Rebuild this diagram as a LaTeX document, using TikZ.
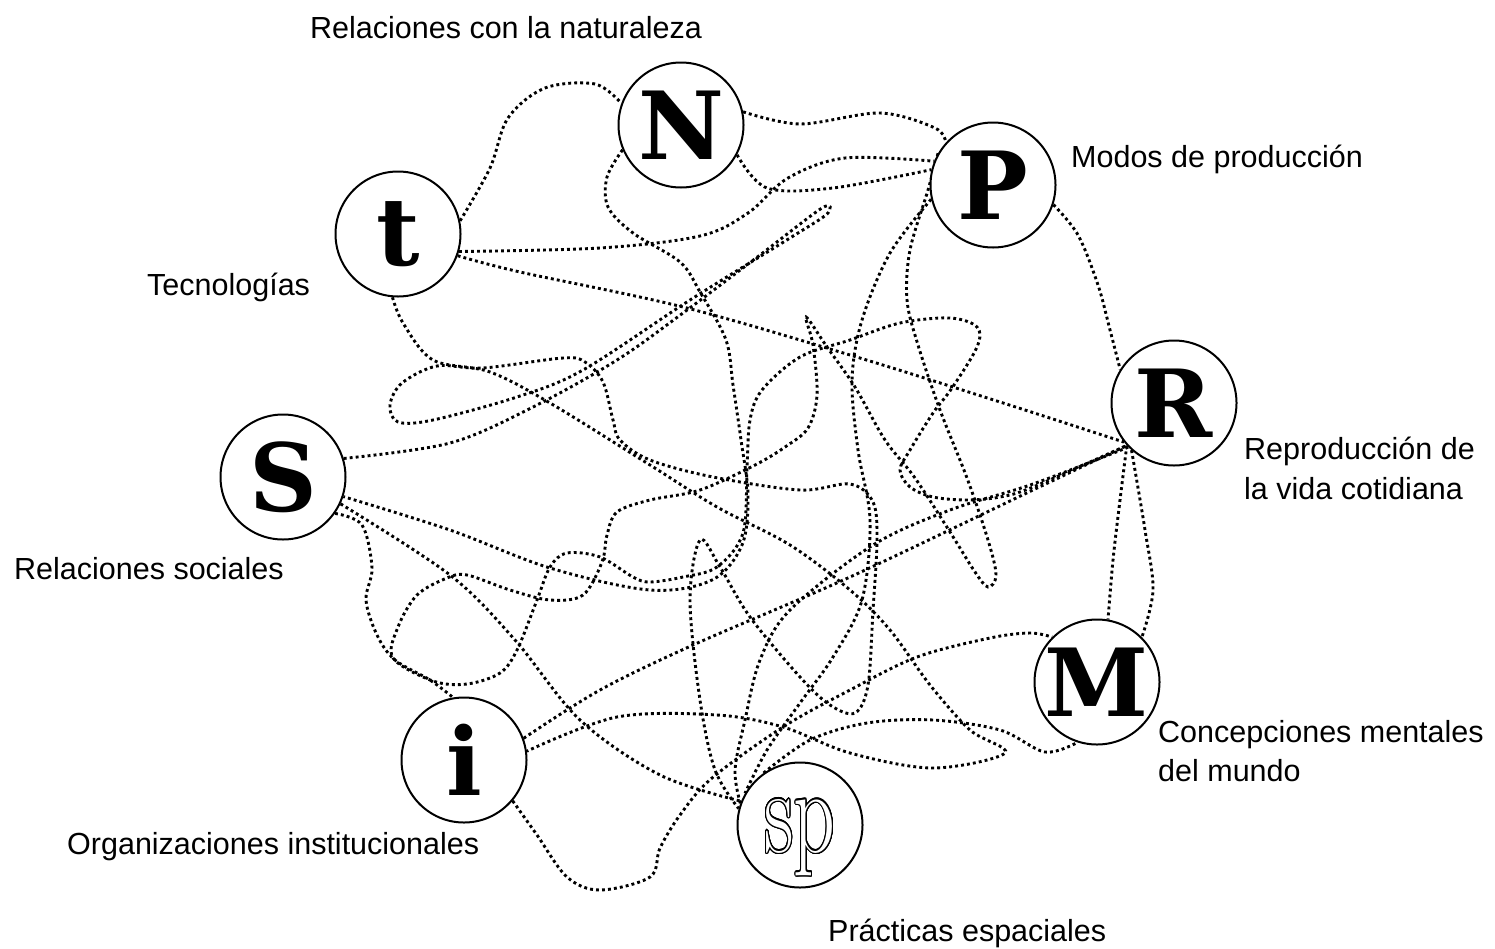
\documentclass[tikz,border=0pt]{standalone}
\usepackage{fontspec}
\setmainfont{Liberation Sans}
\newfontfamily\letterfont{DejaVu Serif}
\newfontfamily\spfont{Latin Modern Roman}
\usetikzlibrary{backgrounds}
\newcommand\outlinedtext[1]{%
  \leavevmode\rlap{\color{black}%
  \foreach \ang in {0,15,...,345}{%
    \rlap{\hspace{\fpeval{1.25*cosd(\ang)}pt}\raisebox{\fpeval{1.25*sind(\ang)}pt}{#1}}}}%
  {\color{white}#1}}
\begin{document}
\begin{tikzpicture}[x=1pt,y=-1pt,
  circ/.style={circle, draw, line width=2pt, fill=white, minimum size=125pt, inner sep=0pt},
  lett/.style={font=\letterfont\bfseries\fontsize{94}{94}\selectfont},
  lab/.style={anchor=base west, inner sep=0pt, font=\fontsize{30.5}{40}\selectfont},
  lnk/.style={line width=2.9pt, dash pattern=on 2.9pt off 3.1pt},
  sm/.style={smooth, tension=0.55}]
\useasboundingbox (0,0) rectangle (1495,948);

\node[circ, lett] (N) at (681,125) {N};
\node[circ, lett] (P) at (993,185) {P};
\node[circ, lett] (t) at (398,234) {t};
\node[circ, lett] (R) at (1174,403) {R};
\node[circ, lett] (S) at (283,477) {S};
\node[circ, lett] (M) at (1097,682) {M};
\node[circ, lett] (i) at (464,760) {i};
\node[circ, text depth=0pt, font=\spfont\fontsize{120}{120}\selectfont] (sp) at (800,825)
  {\scalebox{0.68}[1]{\outlinedtext{sp}}};

\node[lab] (labN) at (310,38) {Relaciones con la naturaleza};
\node[lab] (labP) at (1071,167) {Modos de producción};
\node[lab] (labt) at (147,295) {Tecnologías};
\node[lab] (labR1) at (1244,459) {Reproducción de};
\node[lab] (labR2) at (1244,499) {la vida cotidiana};
\node[lab] (labS) at (14,579) {Relaciones sociales};
\node[lab] (labM1) at (1158,742) {Concepciones mentales};
\node[lab] (labM2) at (1158,781) {del mundo};
\node[lab] (labi) at (67,854) {Organizaciones institucionales};
\node[lab] (labsp) at (828,941) {Prácticas espaciales};

\begin{pgfonlayer}{background}
% t - N
\draw[lnk] plot[sm] coordinates {(t.12) (490,168) (508,118) (545,88) (595,84) (N.160)};
% N - P upper
\draw[lnk] plot[sm] coordinates {(N.12) (800,124) (880,113) (935,128) (P.138)};
% N - P lower
\draw[lnk] plot[sm] coordinates {(N.-28) (767,188) (833,188) (P.166)};
% t - P
\draw[lnk] plot[sm] coordinates {(t.-16) (600,248) (700,236) (748,213) (788,178) (845,158) (P.158)};
% long strand from P
\draw[lnk] plot[sm] coordinates {(P.150) (928,190) (910,250) (907,300) (918,345) (940,410) (967,478) (988,540) (996,575) (988,587) (975,572) (950,532) (915,478) (885,440) (855,387) (827,347) (806,317) (813,345) (817,395) (808,428) (785,447) (755,465) (700,490) (650,500) (617,512) (607,535) (602,562) (583,595) (550,600) (510,590) (467,575) (447,578) (417,595) (398,627) (393,658) (433,681) (467,684) (500,673) (517,650) (537,600) (550,567) (567,553) (600,557) (633,577) (650,582) (683,577) (717,567) (743,533) (747,467) (750,420) (762,390) (800,357) (850,340) (900,323) (950,318) (977,327) (977,347) (952,388) (933,413) (910,450) (900,470) (910,487) (933,497) (967,500) (1000,497) (1033,487) (R.222)};
% S - i
\draw[lnk] plot[sm] coordinates {(S.-35) (362,525) (372,568) (366,600) (377,635) (395,660) (430,680) (i.100)};
% S tip loop
\draw[lnk] plot[sm] coordinates {(S.17) (450,443) (533,407) (617,360) (683,313) (760,255) (822,208) (827,214) (790,238) (690,300) (583,370) (517,397) (433,420) (398,422) (390,405) (402,383) (437,366) (483,368) (563,358) (585,362) (603,382) (613,420) (620,440) (650,460) (713,477) (800,490) (850,484) (873,502) (877,540) (873,610) (868,685) (855,713) (830,705) (800,677) (750,617) (720,567) (700,540) (690,600) (700,700) (715,770) (sp.165)};
% N bottom - centre - S
\draw[lnk] plot[sm] coordinates {(N.203) (607,177) (608,207) (633,233) (680,262) (700,292) (726,340) (733,385) (741,440) (748,495) (742,545) (712,580) (650,590) (550,568) (450,530) (S.-18)};
% t bottom - pointed tip - i
\draw[lnk] plot[sm] coordinates {(t.-95) (403,323) (433,360) (490,372) (550,403) (650,465) (717,507) (790,545) (850,590) (890,630) (930,685) (970,730) (1005,753) (933,768) (850,753) (783,727) (717,715) (617,717) (i.8)};
% sp - M bottom
\draw[lnk] plot[sm] coordinates {(sp.125) (810,740) (867,723) (933,720) (1000,730) (1045,752) (M.-108)};
% P - down - sp
\draw[lnk] plot[sm] coordinates {(P.193) (890,253) (862,320) (852,380) (858,450) (870,520) (862,600) (833,657) (800,703) (767,750) (sp.150)};
% P - R
\draw[lnk] plot[sm] coordinates {(P.-18) (1078,235) (1098,285) (1110,330) (R.148)};
% R - M
\draw[lnk] plot[sm] coordinates {(R.222) (1120,500) (1113,560) (M.80)};
\draw[lnk] plot[sm] coordinates {(R.228) (1145,530) (1153,590) (M.45)};
% i bottom loop - M
\draw[lnk] plot[sm] coordinates {(i.-40) (537,835) (567,877) (600,890) (650,877) (660,848) (680,815) (712,778) (783,727) (850,690) (917,657) (990,638) (1030,633) (M.135)};
% i - R
\draw[lnk] plot[sm] coordinates {(i.20) (600,690) (693,645) (850,577) (1033,490) (R.222)};
% sp - R
\draw[lnk] plot[sm] coordinates {(sp.160) (735,770) (745,720) (760,660) (790,610) (873,545) (950,510) (1033,484) (R.224)};
% t - R
\draw[lnk] plot[sm] coordinates {(t.-20) (520,272) (683,307) (850,355) (1000,402) (R.218)};
% S - sp
\draw[lnk] plot[sm] coordinates {(S.-25) (450,575) (515,640) (580,720) (660,775) (sp.158)};
\end{pgfonlayer}
\end{tikzpicture}
\end{document}
